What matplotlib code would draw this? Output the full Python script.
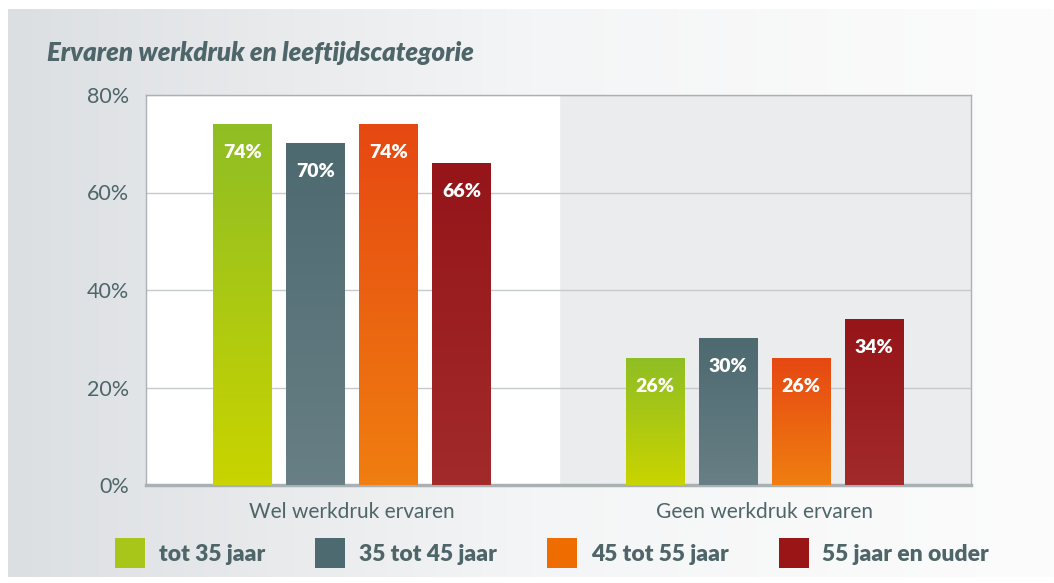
import numpy as np
import matplotlib
matplotlib.use("Agg")
import matplotlib.pyplot as plt
from matplotlib.colors import LinearSegmentedColormap
from matplotlib.patches import Patch

# Data
categories = ["Wel werkdruk ervaren", "Geen werkdruk ervaren"]
series = ["tot 35 jaar", "35 tot 45 jaar", "45 tot 55 jaar", "55 jaar en ouder"]
values = [
    [74, 26],
    [70, 30],
    [74, 26],
    [66, 34],
]
yticks = [0, 20, 40, 60, 80]
ytick_labels = ["0%", "20%", "40%", "60%", "80%"]

# gradient colours (top, bottom) for each series, plus legend colour
grad_colors = [("#8fbe24", "#c9d400"), ("#4d6a70", "#677f85"),
               ("#e64812", "#f07e10"), ("#951519", "#a22a2a")]
legend_colors = ["#a8c51a", "#4d6a70", "#ef6c00", "#9a1515"]
text_col = "#4e6569"

plt.rcParams['font.family'] = ['Lato', 'DejaVu Sans']

fig = plt.figure(figsize=(10.54, 5.83), dpi=100)

# background gradient panel
bg = fig.add_axes([8/1054, 6/583, 1046/1054, 568/583], zorder=0)
bg_cmap = LinearSegmentedColormap.from_list("bg", ["#dcdfe2", "#f4f5f6", "#fcfcfc"])
bg.imshow(np.linspace(0, 1, 256).reshape(1, -1), cmap=bg_cmap, aspect='auto',
          extent=[0, 1, 0, 1])
bg.set_axis_off()

ax = fig.add_axes([146/1054, 98/583, 825/1054, 390/583], zorder=1)
ax.set_facecolor("#ebecee")
ax.axvspan(0, 1, color="white", zorder=0)

width = 0.143
step = 0.177
centers = np.arange(len(categories)) + 0.5
for i, s in enumerate(series):
    xs = centers + (i - 1.5) * step
    bars = ax.bar(xs, values[i], width=width, color="none", zorder=3)
    cmap = LinearSegmentedColormap.from_list("g%d" % i, [grad_colors[i][1], grad_colors[i][0]])
    for b, v in zip(bars, values[i]):
        x0 = b.get_x()
        ax.imshow(np.linspace(0, 1, 100).reshape(-1, 1)[::-1], cmap=cmap, aspect='auto',
                  extent=[x0, x0 + width, 0, v], zorder=3)
        ax.annotate("%d%%" % v, (x0 + width / 2, v), xytext=(0, -20),
                    textcoords='offset points', ha='center', va='center',
                    color='white', fontsize=14, fontweight='heavy', zorder=4)

ax.set_xlim(0, 2)
ax.set_ylim(0, 80)
ax.set_yticks(yticks)
ax.set_yticklabels(ytick_labels)
ax.set_xticks(centers)
ax.set_xticklabels(categories)
ax.tick_params(axis='both', length=0, colors=text_col)
ax.tick_params(axis='y', pad=12, labelsize=15.5)
ax.tick_params(axis='x', pad=12, labelsize=15)
ax.yaxis.grid(True, color="#c5cacd", lw=1, zorder=1)
ax.set_axisbelow(True)
for side in ["left", "top", "right"]:
    ax.spines[side].set_color("#a9b1b4")
    ax.spines[side].set_linewidth(1)
ax.spines["bottom"].set_color("#a9b1b4")
ax.spines["bottom"].set_linewidth(2.5)

fig.text(47/1054, 1 - 53/583, "Ervaren werkdruk en leeftijdscategorie", color=text_col,
         fontsize=18.5, fontweight='heavy', fontstyle='italic', va='center', ha='left')

handles = [Patch(facecolor=c, edgecolor='none') for c in legend_colors]
fig.legend(handles, series, loc='center', bbox_to_anchor=(552/1054, 1 - 553/583), ncol=4,
           frameon=False, handlelength=1.3, handleheight=1.6, handletextpad=0.6,
           columnspacing=2.2, prop={'size': 16.5, 'weight': 'heavy'}, labelcolor=text_col)

fig.savefig("out.png", dpi=100)
